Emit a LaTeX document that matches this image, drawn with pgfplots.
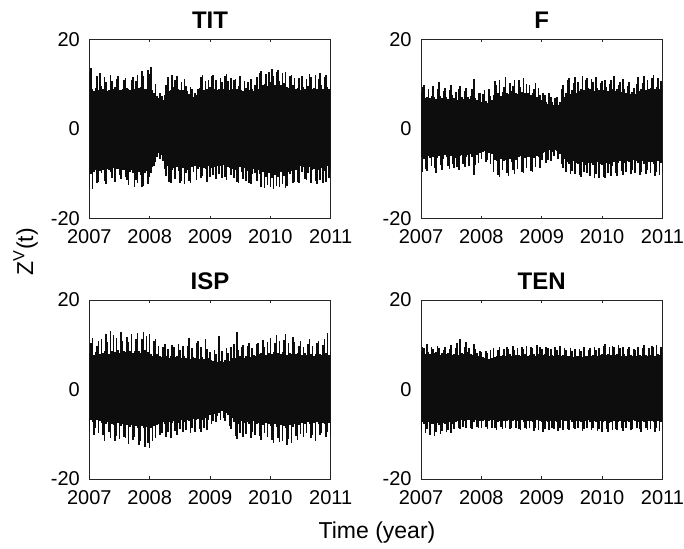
\documentclass[border=0pt]{standalone}
\usepackage{fontspec}
\setmainfont{Liberation Sans}
\usepackage{pgfplots}
\usepackage{pgfplotstable}
\pgfplotsset{compat=1.18}

% TIT: upper / lower envelope of the series, every 0.025 year
\pgfplotstableread[row sep=\\]{
hi lo\\
12.8 -12.9\\ 13.6 -10.2\\ 9.0 -13.5\\ 8.4 -9.6\\ 9.2 -9.1\\ 11.9 -12.1\\ 8.7 -11.8\\ 12.5 -9.4\\
9.6 -9.9\\ 8.8 -9.2\\ 11.6 -11.6\\ 10.5 -12.3\\ 8.4 -8.9\\ 8.6 -9.1\\ 12.0 -9.7\\ 10.7 -11.1\\
8.9 -8.8\\ 9.3 -11.9\\ 11.2 -9.0\\ 11.8 -8.9\\ 8.6 -10.4\\ 8.7 -11.3\\ 8.8 -9.2\\ 10.9 -9.1\\
11.4 -10.8\\ 9.2 -11.4\\ 8.9 -12.6\\ 8.7 -9.7\\ 11.0 -9.3\\ 11.5 -9.8\\ 8.8 -12.9\\ 10.6 -11.5\\
12.1 -12.2\\ 9.1 -9.6\\ 9.4 -10.4\\ 12.9 -13.1\\ 11.8 -12.8\\ 8.9 -9.9\\ 9.0 -9.4\\ 13.2 -12.3\\
12.3 -10.7\\ 13.8 -9.8\\ 8.7 -8.6\\ 8.0 -8.2\\ 10.1 -7.4\\ 7.4 -6.2\\ 6.9 -5.3\\ 8.1 -6.8\\
7.4 -5.8\\ 6.5 -7.2\\ 7.6 -8.9\\ 9.8 -10.6\\ 11.6 -8.4\\ 8.4 -11.8\\ 8.7 -12.2\\ 12.0 -9.1\\
9.3 -8.7\\ 10.8 -11.3\\ 11.9 -8.6\\ 8.9 -9.4\\ 8.6 -12.0\\ 10.4 -11.6\\ 8.7 -8.8\\ 11.2 -12.4\\
9.6 -9.9\\ 8.4 -9.2\\ 7.8 -11.7\\ 9.4 -12.1\\ 8.9 -8.5\\ 7.2 -9.6\\ 8.1 -8.3\\ 7.6 -11.4\\
9.0 -9.0\\ 9.2 -8.6\\ 11.5 -11.1\\ 12.1 -10.5\\ 8.7 -8.7\\ 10.7 -8.9\\ 8.9 -11.8\\ 11.0 -8.2\\
9.4 -10.7\\ 11.7 -8.8\\ 12.0 -10.3\\ 8.8 -8.6\\ 10.8 -11.2\\ 8.6 -8.4\\ 9.0 -10.0\\ 11.3 -8.3\\
10.5 -10.9\\ 8.9 -8.1\\ 11.9 -10.7\\ 12.2 -11.5\\ 10.6 -8.6\\ 8.7 -8.8\\ 11.4 -10.4\\ 8.8 -8.9\\
10.9 -11.0\\ 11.1 -9.1\\ 8.9 -11.9\\ 9.6 -12.2\\ 11.8 -8.5\\ 8.7 -9.7\\ 8.5 -11.3\\ 10.6 -8.8\\
9.2 -11.6\\ 10.4 -9.5\\ 8.6 -12.0\\ 11.2 -12.4\\ 9.0 -10.1\\ 8.4 -8.9\\ 9.7 -9.8\\ 11.5 -11.7\\
8.8 -9.3\\ 12.4 -10.2\\ 13.0 -12.9\\ 9.8 -9.6\\ 10.1 -13.2\\ 12.2 -10.8\\ 9.6 -12.5\\ 12.7 -9.9\\
10.4 -13.0\\ 13.4 -11.1\\ 11.9 -13.4\\ 9.9 -10.3\\ 12.8 -12.7\\ 13.1 -10.8\\ 10.6 -13.1\\ 9.7 -9.7\\
12.5 -12.4\\ 10.2 -10.5\\ 12.6 -13.3\\ 9.4 -12.8\\ 9.1 -9.6\\ 11.8 -10.1\\ 12.1 -9.4\\ 9.8 -12.2\\
11.3 -11.9\\ 9.0 -9.2\\ 9.2 -11.8\\ 11.4 -12.1\\ 8.7 -8.4\\ 11.7 -9.7\\ 9.3 -8.6\\ 8.9 -11.2\\
11.1 -11.5\\ 9.5 -9.8\\ 12.3 -8.5\\ 11.6 -12.0\\ 8.8 -9.3\\ 9.1 -8.9\\ 12.0 -11.6\\ 8.9 -12.3\\
11.2 -9.1\\ 12.4 -11.4\\ 9.8 -8.7\\ 8.9 -12.1\\ 11.5 -9.5\\ 12.1 -11.8\\ 9.3 -8.3\\ 8.8 -10.9\\
10.6 -9.5\\
}\tit

% F
\pgfplotstableread[row sep=\\]{
hi lo\\
8.3 -6.3\\ 9.4 -9.7\\ 9.9 -6.8\\ 6.9 -8.9\\ 7.2 -9.4\\ 8.8 -6.1\\ 6.8 -6.6\\ 7.4 -8.4\\
9.6 -6.2\\ 7.0 -8.7\\ 6.7 -9.8\\ 8.9 -6.5\\ 10.4 -6.0\\ 7.3 -8.1\\ 6.9 -9.2\\ 8.5 -6.7\\
9.2 -5.9\\ 7.1 -6.4\\ 6.6 -8.3\\ 8.7 -9.0\\ 9.8 -6.1\\ 7.5 -7.8\\ 6.8 -8.8\\ 8.2 -6.6\\
6.5 -8.5\\ 8.9 -9.3\\ 9.5 -6.0\\ 7.2 -5.8\\ 6.7 -7.9\\ 8.4 -8.6\\ 9.1 -6.2\\ 7.0 -5.9\\
6.6 -8.2\\ 7.4 -5.7\\ 8.8 -6.3\\ 11.2 -10.3\\ 6.9 -8.0\\ 6.4 -5.9\\ 8.1 -7.6\\ 7.9 -5.5\\
6.0 -6.8\\ 7.8 -5.2\\ 8.6 -4.9\\ 6.3 -7.4\\ 5.8 -6.9\\ 9.0 -5.3\\ 7.4 -7.9\\ 6.5 -5.6\\
7.6 -9.6\\ 10.6 -6.9\\ 9.8 -7.3\\ 8.0 -10.4\\ 10.9 -10.7\\ 7.4 -6.8\\ 8.2 -9.1\\ 9.4 -7.2\\
11.6 -7.0\\ 8.1 -9.8\\ 7.8 -10.5\\ 10.2 -6.7\\ 8.4 -7.4\\ 9.6 -9.2\\ 11.0 -10.1\\ 7.9 -6.9\\
7.7 -8.9\\ 10.8 -6.4\\ 9.4 -6.1\\ 8.3 -9.6\\ 11.3 -9.9\\ 7.9 -6.6\\ 10.1 -8.7\\ 8.0 -6.3\\
9.7 -6.2\\ 7.5 -9.4\\ 8.0 -9.7\\ 8.8 -6.5\\ 10.3 -8.6\\ 7.2 -6.0\\ 9.1 -6.4\\ 7.6 -8.8\\
6.4 -7.0\\ 8.0 -5.3\\ 7.6 -5.1\\ 5.9 -7.6\\ 5.5 -6.9\\ 7.9 -4.8\\ 7.2 -7.2\\ 6.1 -5.2\\
5.4 -6.1\\ 6.8 -4.7\\ 7.1 -5.0\\ 5.3 -6.8\\ 6.0 -5.6\\ 8.8 -7.9\\ 9.8 -8.7\\ 7.2 -6.8\\
8.1 -9.6\\ 10.9 -7.5\\ 11.4 -7.8\\ 7.8 -10.2\\ 8.6 -9.4\\ 10.2 -7.2\\ 11.6 -10.0\\ 7.9 -7.7\\
10.5 -7.9\\ 8.4 -10.4\\ 9.0 -10.8\\ 11.7 -7.4\\ 8.6 -9.7\\ 10.8 -8.0\\ 11.3 -9.9\\ 9.2 -7.6\\
8.8 -10.6\\ 11.1 -7.7\\ 10.4 -8.1\\ 8.5 -11.0\\ 11.6 -10.1\\ 9.1 -7.5\\ 8.7 -10.9\\ 10.2 -7.9\\
10.6 -8.0\\ 8.6 -10.7\\ 11.0 -11.1\\ 9.3 -7.6\\ 8.4 -9.8\\ 10.1 -7.8\\ 10.9 -10.5\\ 8.9 -8.2\\
11.8 -7.4\\ 8.5 -9.9\\ 8.8 -10.6\\ 9.9 -7.7\\ 10.5 -7.2\\ 8.2 -9.5\\ 11.2 -10.3\\ 8.9 -7.6\\
8.0 -9.6\\ 9.6 -7.1\\ 10.4 -7.5\\ 7.7 -10.2\\ 8.3 -9.1\\ 9.2 -7.0\\ 7.8 -9.8\\ 10.0 -7.3\\
11.5 -7.6\\ 8.4 -10.4\\ 8.9 -9.7\\ 10.3 -7.2\\ 11.9 -7.8\\ 8.6 -10.1\\ 10.8 -9.3\\ 9.0 -7.4\\
9.2 -9.9\\ 11.3 -7.5\\ 12.0 -7.9\\ 8.8 -10.5\\ 9.4 -9.6\\ 11.4 -7.3\\ 8.9 -10.3\\ 10.6 -7.7\\
9.6 -9.8\\
}\fdat

% ISP
\pgfplotstableread[row sep=\\]{
hi lo\\
8.2 -9.4\\ 10.4 -6.9\\ 11.6 -7.2\\ 7.8 -10.1\\ 8.3 -8.6\\ 9.7 -6.8\\ 10.9 -9.8\\ 7.9 -7.0\\
11.2 -7.4\\ 8.1 -10.2\\ 8.5 -11.4\\ 12.4 -7.8\\ 10.6 -7.3\\ 8.0 -9.6\\ 13.1 -10.8\\ 8.7 -7.6\\
12.2 -7.9\\ 8.4 -11.6\\ 11.5 -10.3\\ 8.9 -7.5\\ 8.2 -11.0\\ 12.8 -8.1\\ 10.9 -7.7\\ 8.6 -10.5\\
8.3 -10.9\\ 11.8 -8.0\\ 10.6 -12.1\\ 8.7 -8.3\\ 12.5 -7.9\\ 8.1 -11.3\\ 8.5 -10.6\\ 11.2 -8.2\\
12.6 -8.5\\ 8.6 -12.4\\ 8.2 -11.5\\ 11.4 -8.1\\ 12.9 -8.7\\ 8.8 -12.8\\ 11.9 -8.3\\ 8.4 -11.9\\
12.3 -13.1\\ 8.0 -8.6\\ 7.6 -11.6\\ 10.8 -8.2\\ 11.2 -10.8\\ 7.9 -7.9\\ 9.8 -7.6\\ 7.4 -10.2\\
7.3 -9.8\\ 9.6 -7.3\\ 10.2 -7.7\\ 7.6 -10.6\\ 9.0 -9.4\\ 7.1 -7.2\\ 7.5 -10.9\\ 9.9 -7.5\\
9.4 -7.0\\ 7.2 -9.3\\ 7.6 -10.1\\ 10.1 -7.4\\ 8.9 -8.8\\ 7.0 -6.9\\ 9.7 -9.6\\ 7.4 -7.2\\
7.1 -9.0\\ 9.8 -6.8\\ 11.6 -7.1\\ 6.9 -9.8\\ 9.2 -8.7\\ 7.3 -6.6\\ 7.0 -9.4\\ 10.4 -6.9\\
10.9 -6.5\\ 6.8 -8.8\\ 9.5 -9.6\\ 7.2 -6.9\\ 6.9 -8.5\\ 11.3 -6.4\\ 9.0 -9.1\\ 7.1 -6.7\\
8.4 -5.8\\ 6.5 -7.6\\ 6.3 -7.0\\ 8.9 -5.5\\ 7.9 -7.3\\ 6.1 -5.9\\ 12.0 -5.2\\ 6.4 -6.8\\
8.6 -4.9\\ 6.2 -6.4\\ 6.7 -7.1\\ 9.3 -5.3\\ 8.1 -5.8\\ 6.4 -8.2\\ 9.6 -8.9\\ 7.0 -6.4\\
10.2 -7.2\\ 7.1 -10.3\\ 12.9 -11.1\\ 8.8 -7.6\\ 7.4 -9.7\\ 9.6 -7.0\\ 10.0 -10.6\\ 7.0 -7.5\\
7.6 -9.9\\ 9.8 -7.3\\ 10.5 -7.7\\ 7.3 -10.8\\ 9.2 -9.4\\ 7.8 -7.1\\ 7.5 -10.2\\ 10.1 -7.6\\
10.3 -7.5\\ 7.9 -10.4\\ 8.2 -11.2\\ 11.0 -7.9\\ 9.6 -9.8\\ 7.7 -7.4\\ 10.7 -10.7\\ 8.1 -7.8\\
11.5 -8.1\\ 8.0 -11.3\\ 8.4 -12.0\\ 10.3 -7.8\\ 12.1 -8.3\\ 8.1 -10.9\\ 10.8 -11.7\\ 7.9 -7.9\\
8.3 -11.6\\ 11.1 -8.2\\ 12.4 -8.5\\ 7.8 -12.3\\ 10.5 -11.0\\ 8.2 -8.0\\ 8.0 -11.9\\ 11.7 -8.4\\
10.6 -7.6\\ 7.9 -10.4\\ 8.2 -11.2\\ 9.8 -7.9\\ 10.9 -9.9\\ 7.7 -7.4\\ 9.5 -10.6\\ 8.1 -7.8\\
7.8 -9.8\\ 10.2 -7.3\\ 11.2 -7.7\\ 8.0 -10.9\\ 9.7 -10.2\\ 7.6 -7.5\\ 7.9 -11.6\\ 10.5 -7.2\\
10.8 -7.6\\ 8.0 -10.1\\ 7.7 -9.7\\ 9.9 -7.4\\ 11.4 -7.8\\ 8.2 -10.5\\ 12.6 -9.6\\ 7.8 -7.5\\
8.4 -10.3\\
}\isp

% TEN
\pgfplotstableread[row sep=\\]{
hi lo\\
8.5 -9.1\\ 9.6 -7.3\\ 9.2 -7.6\\ 8.0 -9.8\\ 10.1 -8.8\\ 8.3 -7.2\\ 7.9 -10.2\\ 9.4 -7.7\\
9.0 -7.8\\ 8.1 -10.3\\ 8.4 -9.6\\ 9.8 -7.5\\ 9.3 -7.9\\ 7.8 -10.0\\ 8.2 -9.3\\ 8.9 -7.4\\
9.5 -7.6\\ 7.9 -9.4\\ 8.1 -9.0\\ 9.1 -7.3\\ 9.9 -9.7\\ 7.7 -7.7\\ 8.0 -8.8\\ 9.2 -7.2\\
10.4 -7.0\\ 7.8 -8.6\\ 11.2 -8.9\\ 8.2 -6.8\\ 7.9 -8.4\\ 9.6 -7.1\\ 10.6 -8.7\\ 8.3 -6.9\\
9.3 -6.9\\ 8.0 -8.5\\ 7.7 -8.8\\ 10.2 -7.2\\ 9.0 -6.8\\ 8.1 -8.3\\ 7.6 -8.6\\ 8.7 -7.0\\
8.3 -8.7\\ 7.2 -7.0\\ 7.0 -6.9\\ 8.6 -8.4\\ 8.1 -8.9\\ 6.9 -7.1\\ 8.8 -6.8\\ 7.1 -8.5\\
9.2 -6.9\\ 7.3 -8.6\\ 7.6 -9.0\\ 8.9 -7.2\\ 9.5 -7.0\\ 7.4 -8.4\\ 7.7 -8.8\\ 9.0 -7.1\\
7.5 -8.5\\ 9.4 -7.0\\ 9.1 -6.8\\ 7.9 -8.9\\ 7.6 -8.6\\ 9.7 -7.1\\ 8.9 -6.9\\ 7.8 -8.7\\
9.3 -7.1\\ 7.7 -8.8\\ 7.5 -9.1\\ 9.6 -6.9\\ 9.0 -7.2\\ 7.9 -8.5\\ 9.8 -8.9\\ 7.6 -7.0\\
7.8 -8.6\\ 9.5 -7.0\\ 9.2 -7.2\\ 8.0 -9.3\\ 7.6 -8.7\\ 9.9 -6.9\\ 7.9 -9.0\\ 9.4 -7.1\\
9.1 -7.2\\ 7.7 -9.4\\ 7.9 -8.8\\ 9.6 -7.0\\ 9.3 -7.3\\ 7.5 -9.1\\ 9.0 -7.1\\ 7.8 -8.6\\
7.6 -8.9\\ 9.4 -7.0\\ 8.9 -7.2\\ 7.8 -9.2\\ 9.7 -8.7\\ 7.5 -6.9\\ 7.7 -9.0\\ 9.2 -7.1\\
8.8 -7.1\\ 7.4 -8.8\\ 7.6 -9.1\\ 9.3 -6.9\\ 8.6 -7.2\\ 7.3 -8.6\\ 9.1 -8.9\\ 7.5 -7.0\\
7.5 -8.7\\ 9.0 -7.0\\ 8.7 -7.3\\ 7.3 -9.3\\ 9.4 -8.9\\ 7.6 -7.1\\ 7.4 -8.5\\ 8.9 -6.9\\
9.2 -7.2\\ 7.6 -9.0\\ 7.8 -8.6\\ 9.6 -7.0\\ 8.9 -7.3\\ 7.5 -9.2\\ 9.3 -8.8\\ 7.7 -7.1\\
7.9 -9.4\\ 9.8 -7.3\\ 10.1 -7.1\\ 7.7 -8.9\\ 8.0 -9.6\\ 9.4 -7.4\\ 7.8 -7.2\\ 9.7 -9.0\\
9.5 -7.1\\ 7.8 -8.8\\ 8.0 -9.1\\ 9.9 -7.3\\ 9.2 -7.0\\ 7.6 -8.7\\ 9.6 -9.3\\ 7.9 -7.2\\
7.5 -8.6\\ 9.0 -7.0\\ 9.4 -7.2\\ 7.7 -9.0\\ 7.4 -8.8\\ 9.1 -6.9\\ 8.8 -7.1\\ 7.6 -8.5\\
9.6 -7.2\\ 7.7 -8.9\\ 7.5 -9.4\\ 9.2 -7.0\\ 9.9 -7.3\\ 7.8 -8.7\\ 7.6 -9.1\\ 9.3 -7.1\\
7.8 -8.8\\ 9.7 -7.1\\ 9.4 -7.3\\ 7.6 -9.5\\ 10.0 -8.6\\ 7.9 -7.0\\ 7.7 -9.2\\ 9.5 -7.2\\
8.1 -9.0\\
}\ten

\pgfplotsset{
  panel/.style={
    scale only axis,
    width=120.7pt, height=89.5pt,
    xmin=2007, xmax=2011, ymin=-20, ymax=20,
    xtick={2007,2008,2009,2010,2011},
    ytick={-20,0,20},
    /pgf/number format/assume math mode=true,
    /pgf/number format/1000 sep={},
    tick label style={font=\fontsize{10}{12}\selectfont},
    xticklabel style={yshift=-2.2pt},
    yticklabel style={xshift=-1.2pt},
    major tick length=1.3pt,
    tick style={black!85, line width=0.4pt},
    axis line style={black!85, line width=0.4pt},
    every axis title/.style={at={(0.5,1)}, anchor=base, yshift=5.5pt,
      font=\bfseries\fontsize{12}{14}\selectfont},
  },
  band/.style={ycomb, mark=none, draw=black!95, line width=0.8pt},
}

\begin{document}
\begin{tikzpicture}
\path[use as bounding box] (0pt,0pt) rectangle (342pt,-274pt);

\begin{axis}[panel, at={(44.65pt,-19.65pt)}, anchor=north west, title={TIT}]
\addplot[band] table[x expr=2007+\coordindex/40, y=hi]{\tit};
\addplot[band] table[x expr=2007+\coordindex/40, y=lo]{\tit};
\end{axis}

\begin{axis}[panel, at={(210.5pt,-19.65pt)}, anchor=north west, title={F}]
\addplot[band] table[x expr=2007+\coordindex/40, y=hi]{\fdat};
\addplot[band] table[x expr=2007+\coordindex/40, y=lo]{\fdat};
\end{axis}

\begin{axis}[panel, at={(44.65pt,-150pt)}, anchor=north west, title={ISP}]
\addplot[band] table[x expr=2007+\coordindex/40, y=hi]{\isp};
\addplot[band] table[x expr=2007+\coordindex/40, y=lo]{\isp};
\end{axis}

\begin{axis}[panel, at={(210.5pt,-150pt)}, anchor=north west, title={TEN}]
\addplot[band] table[x expr=2007+\coordindex/40, y=hi]{\ten};
\addplot[band] table[x expr=2007+\coordindex/40, y=lo]{\ten};
\end{axis}

\node[rotate=90, anchor=base, font=\fontsize{11.5}{13}\selectfont] at (16.5pt,-126pt) {Z\textsuperscript{V}(t)};
\node[anchor=base, font=\fontsize{11.5}{13}\selectfont] at (188.5pt,-269pt) {Time (year)};
\end{tikzpicture}
\end{document}
